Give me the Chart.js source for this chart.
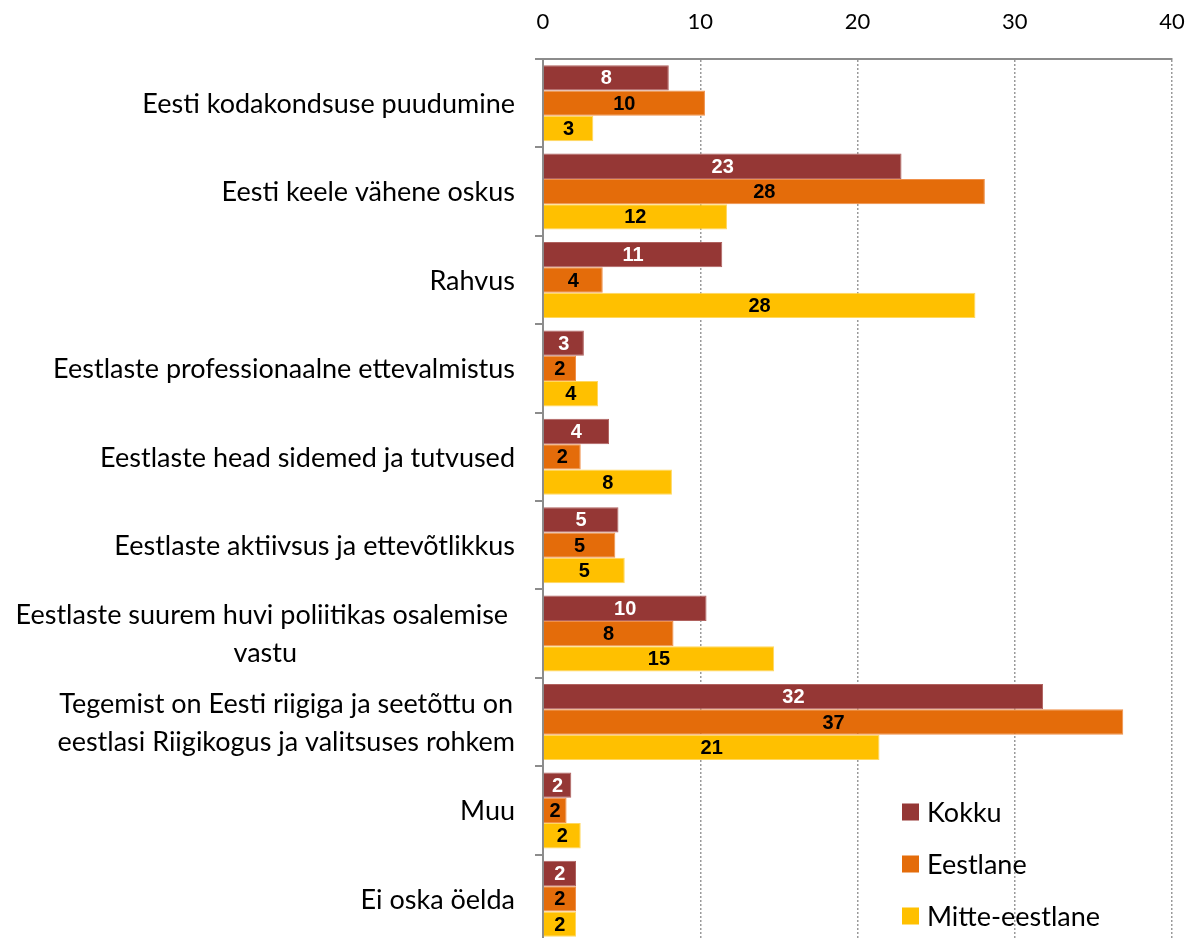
<!DOCTYPE html>
<html><head><meta charset="utf-8">
<script src="https://cdn.jsdelivr.net/npm/chart.js@4.4.0/dist/chart.umd.min.js"></script>
<style>
html,body{margin:0;padding:0;background:#fff;overflow:hidden}
#wrap{width:1194px;height:938px;overflow:hidden;position:relative}
canvas{display:block}
</style></head>
<body><div id="wrap"><canvas id="c" width="1194" height="946"></canvas></div>
<script>
const categories = [
  ["Eesti kodakondsuse puudumine"],
  ["Eesti keele vähene oskus"],
  ["Rahvus"],
  ["Eestlaste professionaalne ettevalmistus"],
  ["Eestlaste head sidemed ja tutvused"],
  ["Eestlaste aktiivsus ja ettevõtlikkus"],
  ["Eestlaste suurem huvi poliitikas osalemise ", "vastu"],
  ["Tegemist on Eesti riigiga ja seetõttu on", "eestlasi Riigikogus ja valitsuses rohkem"],
  ["Muu"],
  ["Ei oska öelda"]
];
const seriesNames = ["Kokku", "Eestlane", "Mitte-eestlane"];
const kokku    = [8.0, 22.8, 11.4, 2.6, 4.2, 4.8, 10.4, 31.8, 1.8, 2.1];
const eestlane = [10.3, 28.1, 3.8, 2.1, 2.4, 4.6, 8.3, 36.9, 1.5, 2.1];
const mitte    = [3.2, 11.7, 27.5, 3.5, 8.2, 5.2, 14.7, 21.4, 2.4, 2.1];
const xTicks = [0, 10, 20, 30, 40];

const colors = ["#953735", "#E46C0A", "#FFC000"];
const borders = ["#b0625f", "#f0904a", "#ffd860"];
const labelColors = ["#ffffff", "#000000", "#000000"];

const catLabelPlugin = {
  id: 'catLabels',
  afterDraw(chart) {
    const ctx = chart.ctx, ys = chart.scales.y;
    ctx.save();
    ctx.font = '27px Lato';
    ctx.fillStyle = '#000';
    ctx.textAlign = 'center';
    ctx.textBaseline = 'middle';
    const right = 515, lh = 38;
    categories.forEach((lines, i) => {
      const y = ys.getPixelForTick(i);
      const w = Math.max(...lines.map(l => ctx.measureText(l).width));
      const cx = right - w / 2;
      lines.forEach((l, j) => {
        ctx.fillText(l, cx, y + (j - (lines.length - 1) / 2) * lh + 1);
      });
    });
    ctx.restore();
  }
};

const valueLabelPlugin = {
  id: 'valueLabels',
  afterDatasetsDraw(chart) {
    const ctx = chart.ctx;
    ctx.save();
    ctx.font = 'bold 20px "Liberation Sans"';
    ctx.textAlign = 'center';
    ctx.textBaseline = 'middle';
    chart.data.datasets.forEach((ds, di) => {
      const meta = chart.getDatasetMeta(di);
      ctx.fillStyle = labelColors[di];
      meta.data.forEach((el, i) => {
        const v = ds.data[i];
        ctx.fillText(String(Math.round(v)), (el.x + el.base) / 2, el.y + 1);
      });
    });
    ctx.restore();
  }
};

const legendPlugin = {
  id: 'customLegend',
  afterDraw(chart) {
    const ctx = chart.ctx;
    ctx.save();
    ctx.font = '27px Lato';
    ctx.textBaseline = 'middle';
    ctx.textAlign = 'left';
    const x0 = 902, ys = [812, 864, 916];
    chart.data.datasets.forEach((ds, i) => {
      ctx.fillStyle = ds.backgroundColor;
      ctx.fillRect(x0, ys[i] - 8.5, 17, 17);
      ctx.fillStyle = '#000';
      ctx.fillText(ds.label, x0 + 25, ys[i] + 1);
    });
    ctx.restore();
  }
};

new Chart(document.getElementById('c'), {
  type: 'bar',
  data: {
    labels: categories,
    datasets: [kokku, eestlane, mitte].map((d, i) => ({
      label: seriesNames[i],
      data: d,
      backgroundColor: colors[i],
      borderColor: borders[i],
      borderWidth: 1,
      barPercentage: 1,
      categoryPercentage: 0.86
    }))
  },
  options: {
    indexAxis: 'y',
    responsive: false,
    animation: false,
    devicePixelRatio: 1,
    layout: { padding: { left: 0, right: 22, top: 0, bottom: 3 } },
    plugins: { legend: { display: false }, tooltip: { enabled: false } },
    scales: {
      x: {
        position: 'top',
        min: xTicks[0],
        max: xTicks[xTicks.length - 1],
        afterBuildTicks(scale) { scale.ticks = xTicks.map(v => ({ value: v })); },
        afterFit(scale) { scale.height = 59; },
        ticks: { font: { family: 'Lato', size: 22, lineHeight: 3.36 }, color: '#000', padding: 0 },
        grid: { color: '#9a9a9a', lineWidth: 1.5, drawTicks: false },
        border: { display: true, color: '#8c8c8c', width: 2, dash: [2, 2] }
      },
      y: {
        position: 'left',
        afterFit(scale) { scale.width = 543; },
        ticks: { display: false },
        grid: { offset: true, drawOnChartArea: false, drawTicks: true, tickLength: 8, color: '#8c8c8c', lineWidth: 2 },
        border: { display: true, color: '#8c8c8c', width: 2 }
      }
    }
  },
  plugins: [catLabelPlugin, valueLabelPlugin, legendPlugin]
});
</script>
</body></html>
